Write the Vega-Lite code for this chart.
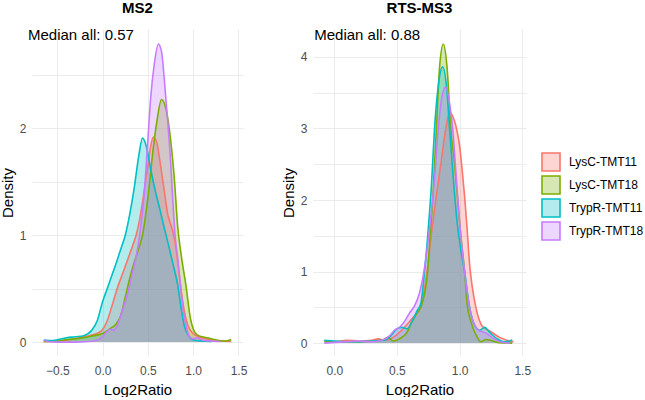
{
  "$schema": "https://vega.github.io/schema/vega-lite/v6.json",
  "padding": {"left": 0, "top": 0, "right": 0, "bottom": 0},
  "background": "white",
  "config": {
    "view": {"stroke": null},
    "font": "Liberation Sans",
    "axis": {
      "domain": false,
      "ticks": false,
      "gridColor": "#EBEBEB",
      "gridWidth": 1,
      "labelColor": "#4D4D4D",
      "labelFontSize": 12,
      "labelPadding": 6,
      "labelOverlap": false,
      "labelFlush": false,
      "titleFontSize": 15,
      "titleColor": "#000000",
      "titleFontWeight": "normal",
      "titlePadding": 4
    },
    "axisX": {"labelPadding": 9, "titlePadding": 6},
    "title": {"fontSize": 15, "fontWeight": "bold", "anchor": "middle", "offset": 12, "color": "#000000"},
    "legend": {
      "labelFontSize": 12,
      "labelColor": "#000000",
      "symbolType": "square",
      "symbolSize": 324,
      "symbolStrokeWidth": 1.6,
      "rowPadding": -5,
      "labelOffset": 8,
      "padding": 0
    }
  },
  "datasets": {
    "dens": [
      {"p": "MS2", "g": "LysC-TMT11", "x": -0.65, "y": 0.005},
      {"p": "MS2", "g": "LysC-TMT11", "x": -0.5, "y": 0.01},
      {"p": "MS2", "g": "LysC-TMT11", "x": -0.35, "y": 0.025},
      {"p": "MS2", "g": "LysC-TMT11", "x": -0.2, "y": 0.05},
      {"p": "MS2", "g": "LysC-TMT11", "x": -0.1, "y": 0.07},
      {"p": "MS2", "g": "LysC-TMT11", "x": -0.02, "y": 0.1},
      {"p": "MS2", "g": "LysC-TMT11", "x": 0.05, "y": 0.2},
      {"p": "MS2", "g": "LysC-TMT11", "x": 0.1, "y": 0.33},
      {"p": "MS2", "g": "LysC-TMT11", "x": 0.16, "y": 0.5},
      {"p": "MS2", "g": "LysC-TMT11", "x": 0.22, "y": 0.64},
      {"p": "MS2", "g": "LysC-TMT11", "x": 0.28, "y": 0.78},
      {"p": "MS2", "g": "LysC-TMT11", "x": 0.33, "y": 0.9},
      {"p": "MS2", "g": "LysC-TMT11", "x": 0.37, "y": 1.0},
      {"p": "MS2", "g": "LysC-TMT11", "x": 0.42, "y": 1.2},
      {"p": "MS2", "g": "LysC-TMT11", "x": 0.46, "y": 1.42},
      {"p": "MS2", "g": "LysC-TMT11", "x": 0.5, "y": 1.65},
      {"p": "MS2", "g": "LysC-TMT11", "x": 0.53, "y": 1.83},
      {"p": "MS2", "g": "LysC-TMT11", "x": 0.56, "y": 1.92},
      {"p": "MS2", "g": "LysC-TMT11", "x": 0.6, "y": 1.86},
      {"p": "MS2", "g": "LysC-TMT11", "x": 0.64, "y": 1.65},
      {"p": "MS2", "g": "LysC-TMT11", "x": 0.68, "y": 1.42},
      {"p": "MS2", "g": "LysC-TMT11", "x": 0.72, "y": 1.19},
      {"p": "MS2", "g": "LysC-TMT11", "x": 0.76, "y": 1.08},
      {"p": "MS2", "g": "LysC-TMT11", "x": 0.79, "y": 0.98},
      {"p": "MS2", "g": "LysC-TMT11", "x": 0.83, "y": 0.75},
      {"p": "MS2", "g": "LysC-TMT11", "x": 0.86, "y": 0.53},
      {"p": "MS2", "g": "LysC-TMT11", "x": 0.9, "y": 0.3},
      {"p": "MS2", "g": "LysC-TMT11", "x": 0.94, "y": 0.16},
      {"p": "MS2", "g": "LysC-TMT11", "x": 1.0, "y": 0.08},
      {"p": "MS2", "g": "LysC-TMT11", "x": 1.06, "y": 0.05},
      {"p": "MS2", "g": "LysC-TMT11", "x": 1.15, "y": 0.03},
      {"p": "MS2", "g": "LysC-TMT11", "x": 1.3, "y": 0.01},
      {"p": "MS2", "g": "LysC-TMT11", "x": 1.42, "y": 0.005},

      {"p": "MS2", "g": "LysC-TMT18", "x": -0.65, "y": 0.005},
      {"p": "MS2", "g": "LysC-TMT18", "x": -0.5, "y": 0.01},
      {"p": "MS2", "g": "LysC-TMT18", "x": -0.43, "y": 0.02},
      {"p": "MS2", "g": "LysC-TMT18", "x": -0.3, "y": 0.03},
      {"p": "MS2", "g": "LysC-TMT18", "x": -0.13, "y": 0.055},
      {"p": "MS2", "g": "LysC-TMT18", "x": 0.0, "y": 0.08},
      {"p": "MS2", "g": "LysC-TMT18", "x": 0.09, "y": 0.13},
      {"p": "MS2", "g": "LysC-TMT18", "x": 0.15, "y": 0.17},
      {"p": "MS2", "g": "LysC-TMT18", "x": 0.2, "y": 0.25},
      {"p": "MS2", "g": "LysC-TMT18", "x": 0.25, "y": 0.42},
      {"p": "MS2", "g": "LysC-TMT18", "x": 0.3, "y": 0.6},
      {"p": "MS2", "g": "LysC-TMT18", "x": 0.35, "y": 0.75},
      {"p": "MS2", "g": "LysC-TMT18", "x": 0.4, "y": 0.88},
      {"p": "MS2", "g": "LysC-TMT18", "x": 0.44, "y": 1.0},
      {"p": "MS2", "g": "LysC-TMT18", "x": 0.48, "y": 1.22},
      {"p": "MS2", "g": "LysC-TMT18", "x": 0.52, "y": 1.5},
      {"p": "MS2", "g": "LysC-TMT18", "x": 0.55, "y": 1.75},
      {"p": "MS2", "g": "LysC-TMT18", "x": 0.6, "y": 2.07},
      {"p": "MS2", "g": "LysC-TMT18", "x": 0.65, "y": 2.27},
      {"p": "MS2", "g": "LysC-TMT18", "x": 0.7, "y": 2.18},
      {"p": "MS2", "g": "LysC-TMT18", "x": 0.75, "y": 1.9},
      {"p": "MS2", "g": "LysC-TMT18", "x": 0.79, "y": 1.55},
      {"p": "MS2", "g": "LysC-TMT18", "x": 0.83, "y": 1.07},
      {"p": "MS2", "g": "LysC-TMT18", "x": 0.87, "y": 0.8},
      {"p": "MS2", "g": "LysC-TMT18", "x": 0.92, "y": 0.53},
      {"p": "MS2", "g": "LysC-TMT18", "x": 0.97, "y": 0.22},
      {"p": "MS2", "g": "LysC-TMT18", "x": 1.04, "y": 0.07},
      {"p": "MS2", "g": "LysC-TMT18", "x": 1.1, "y": 0.05},
      {"p": "MS2", "g": "LysC-TMT18", "x": 1.16, "y": 0.04},
      {"p": "MS2", "g": "LysC-TMT18", "x": 1.25, "y": 0.02},
      {"p": "MS2", "g": "LysC-TMT18", "x": 1.35, "y": 0.01},
      {"p": "MS2", "g": "LysC-TMT18", "x": 1.42, "y": 0.025},

      {"p": "MS2", "g": "TrypR-TMT11", "x": -0.65, "y": 0.02},
      {"p": "MS2", "g": "TrypR-TMT11", "x": -0.55, "y": 0.015},
      {"p": "MS2", "g": "TrypR-TMT11", "x": -0.4, "y": 0.04},
      {"p": "MS2", "g": "TrypR-TMT11", "x": -0.3, "y": 0.05},
      {"p": "MS2", "g": "TrypR-TMT11", "x": -0.21, "y": 0.06},
      {"p": "MS2", "g": "TrypR-TMT11", "x": -0.12, "y": 0.11},
      {"p": "MS2", "g": "TrypR-TMT11", "x": -0.06, "y": 0.2},
      {"p": "MS2", "g": "TrypR-TMT11", "x": 0.0, "y": 0.38},
      {"p": "MS2", "g": "TrypR-TMT11", "x": 0.05, "y": 0.5},
      {"p": "MS2", "g": "TrypR-TMT11", "x": 0.1, "y": 0.62},
      {"p": "MS2", "g": "TrypR-TMT11", "x": 0.15, "y": 0.74},
      {"p": "MS2", "g": "TrypR-TMT11", "x": 0.2, "y": 0.87},
      {"p": "MS2", "g": "TrypR-TMT11", "x": 0.25, "y": 1.0},
      {"p": "MS2", "g": "TrypR-TMT11", "x": 0.3, "y": 1.2},
      {"p": "MS2", "g": "TrypR-TMT11", "x": 0.35, "y": 1.45},
      {"p": "MS2", "g": "TrypR-TMT11", "x": 0.4, "y": 1.75},
      {"p": "MS2", "g": "TrypR-TMT11", "x": 0.44, "y": 1.91},
      {"p": "MS2", "g": "TrypR-TMT11", "x": 0.48, "y": 1.84},
      {"p": "MS2", "g": "TrypR-TMT11", "x": 0.53, "y": 1.62},
      {"p": "MS2", "g": "TrypR-TMT11", "x": 0.58, "y": 1.42},
      {"p": "MS2", "g": "TrypR-TMT11", "x": 0.63, "y": 1.25},
      {"p": "MS2", "g": "TrypR-TMT11", "x": 0.68, "y": 1.07},
      {"p": "MS2", "g": "TrypR-TMT11", "x": 0.73, "y": 0.9},
      {"p": "MS2", "g": "TrypR-TMT11", "x": 0.78, "y": 0.72},
      {"p": "MS2", "g": "TrypR-TMT11", "x": 0.83, "y": 0.53},
      {"p": "MS2", "g": "TrypR-TMT11", "x": 0.87, "y": 0.3},
      {"p": "MS2", "g": "TrypR-TMT11", "x": 0.9, "y": 0.16},
      {"p": "MS2", "g": "TrypR-TMT11", "x": 0.95, "y": 0.06},
      {"p": "MS2", "g": "TrypR-TMT11", "x": 1.0, "y": 0.02},
      {"p": "MS2", "g": "TrypR-TMT11", "x": 1.1, "y": 0.01},
      {"p": "MS2", "g": "TrypR-TMT11", "x": 1.2, "y": 0.005},

      {"p": "MS2", "g": "TrypR-TMT18", "x": -0.65, "y": 0.02},
      {"p": "MS2", "g": "TrypR-TMT18", "x": -0.6, "y": 0.005},
      {"p": "MS2", "g": "TrypR-TMT18", "x": -0.5, "y": 0.0},
      {"p": "MS2", "g": "TrypR-TMT18", "x": -0.3, "y": 0.0},
      {"p": "MS2", "g": "TrypR-TMT18", "x": -0.1, "y": 0.01},
      {"p": "MS2", "g": "TrypR-TMT18", "x": 0.0, "y": 0.05},
      {"p": "MS2", "g": "TrypR-TMT18", "x": 0.05, "y": 0.1},
      {"p": "MS2", "g": "TrypR-TMT18", "x": 0.08, "y": 0.12},
      {"p": "MS2", "g": "TrypR-TMT18", "x": 0.12, "y": 0.11},
      {"p": "MS2", "g": "TrypR-TMT18", "x": 0.16, "y": 0.15},
      {"p": "MS2", "g": "TrypR-TMT18", "x": 0.2, "y": 0.25},
      {"p": "MS2", "g": "TrypR-TMT18", "x": 0.25, "y": 0.38},
      {"p": "MS2", "g": "TrypR-TMT18", "x": 0.29, "y": 0.5},
      {"p": "MS2", "g": "TrypR-TMT18", "x": 0.33, "y": 0.65},
      {"p": "MS2", "g": "TrypR-TMT18", "x": 0.37, "y": 0.8},
      {"p": "MS2", "g": "TrypR-TMT18", "x": 0.42, "y": 1.07},
      {"p": "MS2", "g": "TrypR-TMT18", "x": 0.46, "y": 1.4},
      {"p": "MS2", "g": "TrypR-TMT18", "x": 0.5, "y": 1.9},
      {"p": "MS2", "g": "TrypR-TMT18", "x": 0.53, "y": 2.28},
      {"p": "MS2", "g": "TrypR-TMT18", "x": 0.57, "y": 2.6},
      {"p": "MS2", "g": "TrypR-TMT18", "x": 0.616, "y": 2.79},
      {"p": "MS2", "g": "TrypR-TMT18", "x": 0.65, "y": 2.72},
      {"p": "MS2", "g": "TrypR-TMT18", "x": 0.68, "y": 2.47},
      {"p": "MS2", "g": "TrypR-TMT18", "x": 0.72, "y": 2.05},
      {"p": "MS2", "g": "TrypR-TMT18", "x": 0.75, "y": 1.7},
      {"p": "MS2", "g": "TrypR-TMT18", "x": 0.78, "y": 1.25},
      {"p": "MS2", "g": "TrypR-TMT18", "x": 0.8, "y": 1.0},
      {"p": "MS2", "g": "TrypR-TMT18", "x": 0.83, "y": 0.78},
      {"p": "MS2", "g": "TrypR-TMT18", "x": 0.86, "y": 0.53},
      {"p": "MS2", "g": "TrypR-TMT18", "x": 0.89, "y": 0.3},
      {"p": "MS2", "g": "TrypR-TMT18", "x": 0.92, "y": 0.16},
      {"p": "MS2", "g": "TrypR-TMT18", "x": 0.96, "y": 0.05},
      {"p": "MS2", "g": "TrypR-TMT18", "x": 1.0, "y": 0.03},
      {"p": "MS2", "g": "TrypR-TMT18", "x": 1.05, "y": 0.04},
      {"p": "MS2", "g": "TrypR-TMT18", "x": 1.1, "y": 0.02},
      {"p": "MS2", "g": "TrypR-TMT18", "x": 1.2, "y": 0.01},
      {"p": "MS2", "g": "TrypR-TMT18", "x": 1.3, "y": 0.005},

      {"p": "RTS-MS3", "g": "LysC-TMT11", "x": -0.08, "y": 0.03},
      {"p": "RTS-MS3", "g": "LysC-TMT11", "x": 0.0, "y": 0.02},
      {"p": "RTS-MS3", "g": "LysC-TMT11", "x": 0.1, "y": 0.04},
      {"p": "RTS-MS3", "g": "LysC-TMT11", "x": 0.2, "y": 0.03},
      {"p": "RTS-MS3", "g": "LysC-TMT11", "x": 0.3, "y": 0.04},
      {"p": "RTS-MS3", "g": "LysC-TMT11", "x": 0.35, "y": 0.06},
      {"p": "RTS-MS3", "g": "LysC-TMT11", "x": 0.4, "y": 0.04},
      {"p": "RTS-MS3", "g": "LysC-TMT11", "x": 0.45, "y": 0.06},
      {"p": "RTS-MS3", "g": "LysC-TMT11", "x": 0.5, "y": 0.12},
      {"p": "RTS-MS3", "g": "LysC-TMT11", "x": 0.55, "y": 0.2},
      {"p": "RTS-MS3", "g": "LysC-TMT11", "x": 0.6, "y": 0.3},
      {"p": "RTS-MS3", "g": "LysC-TMT11", "x": 0.65, "y": 0.4},
      {"p": "RTS-MS3", "g": "LysC-TMT11", "x": 0.69, "y": 0.5},
      {"p": "RTS-MS3", "g": "LysC-TMT11", "x": 0.74, "y": 1.0},
      {"p": "RTS-MS3", "g": "LysC-TMT11", "x": 0.78, "y": 1.6},
      {"p": "RTS-MS3", "g": "LysC-TMT11", "x": 0.81, "y": 2.0},
      {"p": "RTS-MS3", "g": "LysC-TMT11", "x": 0.85, "y": 2.5},
      {"p": "RTS-MS3", "g": "LysC-TMT11", "x": 0.89, "y": 3.0},
      {"p": "RTS-MS3", "g": "LysC-TMT11", "x": 0.92, "y": 3.23},
      {"p": "RTS-MS3", "g": "LysC-TMT11", "x": 0.95, "y": 3.15},
      {"p": "RTS-MS3", "g": "LysC-TMT11", "x": 0.97, "y": 3.04},
      {"p": "RTS-MS3", "g": "LysC-TMT11", "x": 1.0, "y": 2.76},
      {"p": "RTS-MS3", "g": "LysC-TMT11", "x": 1.02, "y": 2.43},
      {"p": "RTS-MS3", "g": "LysC-TMT11", "x": 1.04, "y": 2.05},
      {"p": "RTS-MS3", "g": "LysC-TMT11", "x": 1.06, "y": 1.6},
      {"p": "RTS-MS3", "g": "LysC-TMT11", "x": 1.08, "y": 1.1},
      {"p": "RTS-MS3", "g": "LysC-TMT11", "x": 1.1, "y": 0.8},
      {"p": "RTS-MS3", "g": "LysC-TMT11", "x": 1.13, "y": 0.5},
      {"p": "RTS-MS3", "g": "LysC-TMT11", "x": 1.18, "y": 0.24},
      {"p": "RTS-MS3", "g": "LysC-TMT11", "x": 1.24, "y": 0.17},
      {"p": "RTS-MS3", "g": "LysC-TMT11", "x": 1.32, "y": 0.08},
      {"p": "RTS-MS3", "g": "LysC-TMT11", "x": 1.4, "y": 0.03},
      {"p": "RTS-MS3", "g": "LysC-TMT11", "x": 1.43, "y": 0.02},

      {"p": "RTS-MS3", "g": "LysC-TMT18", "x": -0.08, "y": 0.03},
      {"p": "RTS-MS3", "g": "LysC-TMT18", "x": 0.0, "y": 0.02},
      {"p": "RTS-MS3", "g": "LysC-TMT18", "x": 0.1, "y": 0.02},
      {"p": "RTS-MS3", "g": "LysC-TMT18", "x": 0.2, "y": 0.02},
      {"p": "RTS-MS3", "g": "LysC-TMT18", "x": 0.3, "y": 0.03},
      {"p": "RTS-MS3", "g": "LysC-TMT18", "x": 0.38, "y": 0.04},
      {"p": "RTS-MS3", "g": "LysC-TMT18", "x": 0.43, "y": 0.08},
      {"p": "RTS-MS3", "g": "LysC-TMT18", "x": 0.47, "y": 0.03},
      {"p": "RTS-MS3", "g": "LysC-TMT18", "x": 0.52, "y": 0.06},
      {"p": "RTS-MS3", "g": "LysC-TMT18", "x": 0.58, "y": 0.15},
      {"p": "RTS-MS3", "g": "LysC-TMT18", "x": 0.62, "y": 0.3},
      {"p": "RTS-MS3", "g": "LysC-TMT18", "x": 0.66, "y": 0.42},
      {"p": "RTS-MS3", "g": "LysC-TMT18", "x": 0.7, "y": 0.55},
      {"p": "RTS-MS3", "g": "LysC-TMT18", "x": 0.745, "y": 1.0},
      {"p": "RTS-MS3", "g": "LysC-TMT18", "x": 0.765, "y": 1.5},
      {"p": "RTS-MS3", "g": "LysC-TMT18", "x": 0.785, "y": 2.0},
      {"p": "RTS-MS3", "g": "LysC-TMT18", "x": 0.8, "y": 2.5},
      {"p": "RTS-MS3", "g": "LysC-TMT18", "x": 0.815, "y": 3.0},
      {"p": "RTS-MS3", "g": "LysC-TMT18", "x": 0.84, "y": 3.85},
      {"p": "RTS-MS3", "g": "LysC-TMT18", "x": 0.87, "y": 4.18},
      {"p": "RTS-MS3", "g": "LysC-TMT18", "x": 0.9, "y": 3.85},
      {"p": "RTS-MS3", "g": "LysC-TMT18", "x": 0.93, "y": 3.0},
      {"p": "RTS-MS3", "g": "LysC-TMT18", "x": 0.96, "y": 2.5},
      {"p": "RTS-MS3", "g": "LysC-TMT18", "x": 0.985, "y": 2.0},
      {"p": "RTS-MS3", "g": "LysC-TMT18", "x": 1.01, "y": 1.5},
      {"p": "RTS-MS3", "g": "LysC-TMT18", "x": 1.04, "y": 1.0},
      {"p": "RTS-MS3", "g": "LysC-TMT18", "x": 1.06, "y": 0.55},
      {"p": "RTS-MS3", "g": "LysC-TMT18", "x": 1.09, "y": 0.3},
      {"p": "RTS-MS3", "g": "LysC-TMT18", "x": 1.13, "y": 0.12},
      {"p": "RTS-MS3", "g": "LysC-TMT18", "x": 1.17, "y": 0.02},
      {"p": "RTS-MS3", "g": "LysC-TMT18", "x": 1.21, "y": 0.05},
      {"p": "RTS-MS3", "g": "LysC-TMT18", "x": 1.25, "y": 0.04},
      {"p": "RTS-MS3", "g": "LysC-TMT18", "x": 1.3, "y": 0.01},
      {"p": "RTS-MS3", "g": "LysC-TMT18", "x": 1.42, "y": 0.0},

      {"p": "RTS-MS3", "g": "TrypR-TMT11", "x": -0.08, "y": 0.04},
      {"p": "RTS-MS3", "g": "TrypR-TMT11", "x": 0.0, "y": 0.03},
      {"p": "RTS-MS3", "g": "TrypR-TMT11", "x": 0.1, "y": 0.02},
      {"p": "RTS-MS3", "g": "TrypR-TMT11", "x": 0.2, "y": 0.02},
      {"p": "RTS-MS3", "g": "TrypR-TMT11", "x": 0.3, "y": 0.03},
      {"p": "RTS-MS3", "g": "TrypR-TMT11", "x": 0.4, "y": 0.04},
      {"p": "RTS-MS3", "g": "TrypR-TMT11", "x": 0.45, "y": 0.1},
      {"p": "RTS-MS3", "g": "TrypR-TMT11", "x": 0.5, "y": 0.2},
      {"p": "RTS-MS3", "g": "TrypR-TMT11", "x": 0.54, "y": 0.22},
      {"p": "RTS-MS3", "g": "TrypR-TMT11", "x": 0.58, "y": 0.2},
      {"p": "RTS-MS3", "g": "TrypR-TMT11", "x": 0.62, "y": 0.3},
      {"p": "RTS-MS3", "g": "TrypR-TMT11", "x": 0.66, "y": 0.45},
      {"p": "RTS-MS3", "g": "TrypR-TMT11", "x": 0.69, "y": 0.55},
      {"p": "RTS-MS3", "g": "TrypR-TMT11", "x": 0.72, "y": 1.0},
      {"p": "RTS-MS3", "g": "TrypR-TMT11", "x": 0.75, "y": 1.6},
      {"p": "RTS-MS3", "g": "TrypR-TMT11", "x": 0.775, "y": 2.2},
      {"p": "RTS-MS3", "g": "TrypR-TMT11", "x": 0.8, "y": 3.0},
      {"p": "RTS-MS3", "g": "TrypR-TMT11", "x": 0.83, "y": 3.6},
      {"p": "RTS-MS3", "g": "TrypR-TMT11", "x": 0.865, "y": 3.86},
      {"p": "RTS-MS3", "g": "TrypR-TMT11", "x": 0.9, "y": 3.5},
      {"p": "RTS-MS3", "g": "TrypR-TMT11", "x": 0.92, "y": 3.0},
      {"p": "RTS-MS3", "g": "TrypR-TMT11", "x": 0.95, "y": 2.3},
      {"p": "RTS-MS3", "g": "TrypR-TMT11", "x": 0.98, "y": 1.7},
      {"p": "RTS-MS3", "g": "TrypR-TMT11", "x": 1.01, "y": 1.3},
      {"p": "RTS-MS3", "g": "TrypR-TMT11", "x": 1.04, "y": 1.0},
      {"p": "RTS-MS3", "g": "TrypR-TMT11", "x": 1.08, "y": 0.5},
      {"p": "RTS-MS3", "g": "TrypR-TMT11", "x": 1.12, "y": 0.25},
      {"p": "RTS-MS3", "g": "TrypR-TMT11", "x": 1.16, "y": 0.18},
      {"p": "RTS-MS3", "g": "TrypR-TMT11", "x": 1.2, "y": 0.22},
      {"p": "RTS-MS3", "g": "TrypR-TMT11", "x": 1.24, "y": 0.15},
      {"p": "RTS-MS3", "g": "TrypR-TMT11", "x": 1.3, "y": 0.06},
      {"p": "RTS-MS3", "g": "TrypR-TMT11", "x": 1.35, "y": 0.02},
      {"p": "RTS-MS3", "g": "TrypR-TMT11", "x": 1.4, "y": 0.03},
      {"p": "RTS-MS3", "g": "TrypR-TMT11", "x": 1.42, "y": 0.05},

      {"p": "RTS-MS3", "g": "TrypR-TMT18", "x": -0.08, "y": 0.0},
      {"p": "RTS-MS3", "g": "TrypR-TMT18", "x": 0.0, "y": 0.01},
      {"p": "RTS-MS3", "g": "TrypR-TMT18", "x": 0.1, "y": 0.02},
      {"p": "RTS-MS3", "g": "TrypR-TMT18", "x": 0.2, "y": 0.03},
      {"p": "RTS-MS3", "g": "TrypR-TMT18", "x": 0.3, "y": 0.02},
      {"p": "RTS-MS3", "g": "TrypR-TMT18", "x": 0.38, "y": 0.04},
      {"p": "RTS-MS3", "g": "TrypR-TMT18", "x": 0.44, "y": 0.1},
      {"p": "RTS-MS3", "g": "TrypR-TMT18", "x": 0.48, "y": 0.18},
      {"p": "RTS-MS3", "g": "TrypR-TMT18", "x": 0.52, "y": 0.22},
      {"p": "RTS-MS3", "g": "TrypR-TMT18", "x": 0.56, "y": 0.3},
      {"p": "RTS-MS3", "g": "TrypR-TMT18", "x": 0.6, "y": 0.42},
      {"p": "RTS-MS3", "g": "TrypR-TMT18", "x": 0.64, "y": 0.52},
      {"p": "RTS-MS3", "g": "TrypR-TMT18", "x": 0.68, "y": 0.7},
      {"p": "RTS-MS3", "g": "TrypR-TMT18", "x": 0.72, "y": 1.05},
      {"p": "RTS-MS3", "g": "TrypR-TMT18", "x": 0.76, "y": 1.6},
      {"p": "RTS-MS3", "g": "TrypR-TMT18", "x": 0.8, "y": 2.3},
      {"p": "RTS-MS3", "g": "TrypR-TMT18", "x": 0.83, "y": 3.0},
      {"p": "RTS-MS3", "g": "TrypR-TMT18", "x": 0.86, "y": 3.45},
      {"p": "RTS-MS3", "g": "TrypR-TMT18", "x": 0.89, "y": 3.58},
      {"p": "RTS-MS3", "g": "TrypR-TMT18", "x": 0.92, "y": 3.35},
      {"p": "RTS-MS3", "g": "TrypR-TMT18", "x": 0.945, "y": 3.0},
      {"p": "RTS-MS3", "g": "TrypR-TMT18", "x": 0.97, "y": 2.4},
      {"p": "RTS-MS3", "g": "TrypR-TMT18", "x": 1.0, "y": 1.7},
      {"p": "RTS-MS3", "g": "TrypR-TMT18", "x": 1.04, "y": 1.0},
      {"p": "RTS-MS3", "g": "TrypR-TMT18", "x": 1.08, "y": 0.5},
      {"p": "RTS-MS3", "g": "TrypR-TMT18", "x": 1.12, "y": 0.25},
      {"p": "RTS-MS3", "g": "TrypR-TMT18", "x": 1.16, "y": 0.17},
      {"p": "RTS-MS3", "g": "TrypR-TMT18", "x": 1.2, "y": 0.15},
      {"p": "RTS-MS3", "g": "TrypR-TMT18", "x": 1.26, "y": 0.08},
      {"p": "RTS-MS3", "g": "TrypR-TMT18", "x": 1.32, "y": 0.02},
      {"p": "RTS-MS3", "g": "TrypR-TMT18", "x": 1.4, "y": 0.0}
    ],
    "notes": [
      {"p": "MS2", "x": -0.78, "y": 2.87, "label": "Median all: 0.57"},
      {"p": "RTS-MS3", "x": -0.16, "y": 4.31, "label": "Median all: 0.88"}
    ]
  },
  "hconcat": [
    {
      "title": {"text": "MS2"},
      "width": 211,
      "height": 327,
      "layer": [
        {
          "data": {"name": "dens"},
          "transform": [{"filter": "datum.p === 'MS2'"}],
          "mark": {"type": "area", "interpolate": "monotone", "fillOpacity": 0.3, "clip": true, "line": {"strokeWidth": 1.6}},
          "encoding": {
            "x": {
              "field": "x", "type": "quantitative",
              "scale": {"domain": [-0.78, 1.55], "nice": false, "zero": false},
              "axis": {"title": "Log2Ratio", "values": [-0.5, 0, 0.5, 1, 1.5], "format": ".1f",
                       "labelOverlap": false, "labelFlush": false}
            },
            "y": {
              "field": "y", "type": "quantitative", "stack": null,
              "scale": {"domain": [-0.13, 2.93], "nice": false, "zero": false},
              "axis": {"title": "Density", "values": [0, 0.5, 1, 1.5, 2, 2.5], "labelOverlap": false,
                       "labelExpr": "round(datum.value) === datum.value ? format(datum.value, 'd') : ' '"}
            },
            "color": {
              "field": "g", "type": "nominal",
              "scale": {"domain": ["LysC-TMT11", "LysC-TMT18", "TrypR-TMT11", "TrypR-TMT18"],
                        "range": ["#F8766D", "#7CAE00", "#00BFC4", "#C77CFF"]},
              "legend": {"title": null, "orient": "none", "legendX": 509, "legendY": 123,
                         "encode": {"symbols": {"update": {"fillOpacity": {"value": 0.3}, "stroke": {"scale": "color", "field": "value"}, "strokeWidth": {"value": 1.6}}}}}
            }
          }
        },
        {
          "data": {"name": "notes"},
          "transform": [{"filter": "datum.p === 'MS2'"}],
          "mark": {"type": "text", "align": "left", "baseline": "middle", "fontSize": 15, "color": "#000000", "dx": -4},
          "encoding": {
            "x": {"field": "x", "type": "quantitative"},
            "y": {"field": "y", "type": "quantitative"},
            "text": {"field": "label"}
          }
        }
      ]
    },
    {
      "title": {"text": "RTS-MS3"},
      "width": 213,
      "height": 327,
      "layer": [
        {
          "data": {"name": "dens"},
          "transform": [{"filter": "datum.p === 'RTS-MS3'"}],
          "mark": {"type": "area", "interpolate": "monotone", "fillOpacity": 0.3, "clip": true, "line": {"strokeWidth": 1.6}},
          "encoding": {
            "x": {
              "field": "x", "type": "quantitative",
              "scale": {"domain": [-0.17, 1.53], "nice": false, "zero": false},
              "axis": {"title": "Log2Ratio", "values": [0, 0.25, 0.5, 0.75, 1, 1.25, 1.5],
                       "labelOverlap": false, "labelFlush": false,
                       "labelExpr": "abs(round(datum.value * 4)) % 2 === 0 ? format(datum.value, '.1f') : ' '"}
            },
            "y": {
              "field": "y", "type": "quantitative", "stack": null,
              "scale": {"domain": [-0.18, 4.39], "nice": false, "zero": false},
              "axis": {"title": "Density", "values": [0, 0.5, 1, 1.5, 2, 2.5, 3, 3.5, 4], "labelOverlap": false,
                       "labelExpr": "round(datum.value) === datum.value ? format(datum.value, 'd') : ' '"}
            },
            "color": {
              "field": "g", "type": "nominal",
              "scale": {"domain": ["LysC-TMT11", "LysC-TMT18", "TrypR-TMT11", "TrypR-TMT18"],
                        "range": ["#F8766D", "#7CAE00", "#00BFC4", "#C77CFF"]},
              "legend": {"title": null, "orient": "none", "legendX": 509, "legendY": 123}
            }
          }
        },
        {
          "data": {"name": "notes"},
          "transform": [{"filter": "datum.p === 'RTS-MS3'"}],
          "mark": {"type": "text", "align": "left", "baseline": "middle", "fontSize": 15, "color": "#000000"},
          "encoding": {
            "x": {"field": "x", "type": "quantitative"},
            "y": {"field": "y", "type": "quantitative"},
            "text": {"field": "label"}
          }
        }
      ]
    }
  ],
  "spacing": 34
}
